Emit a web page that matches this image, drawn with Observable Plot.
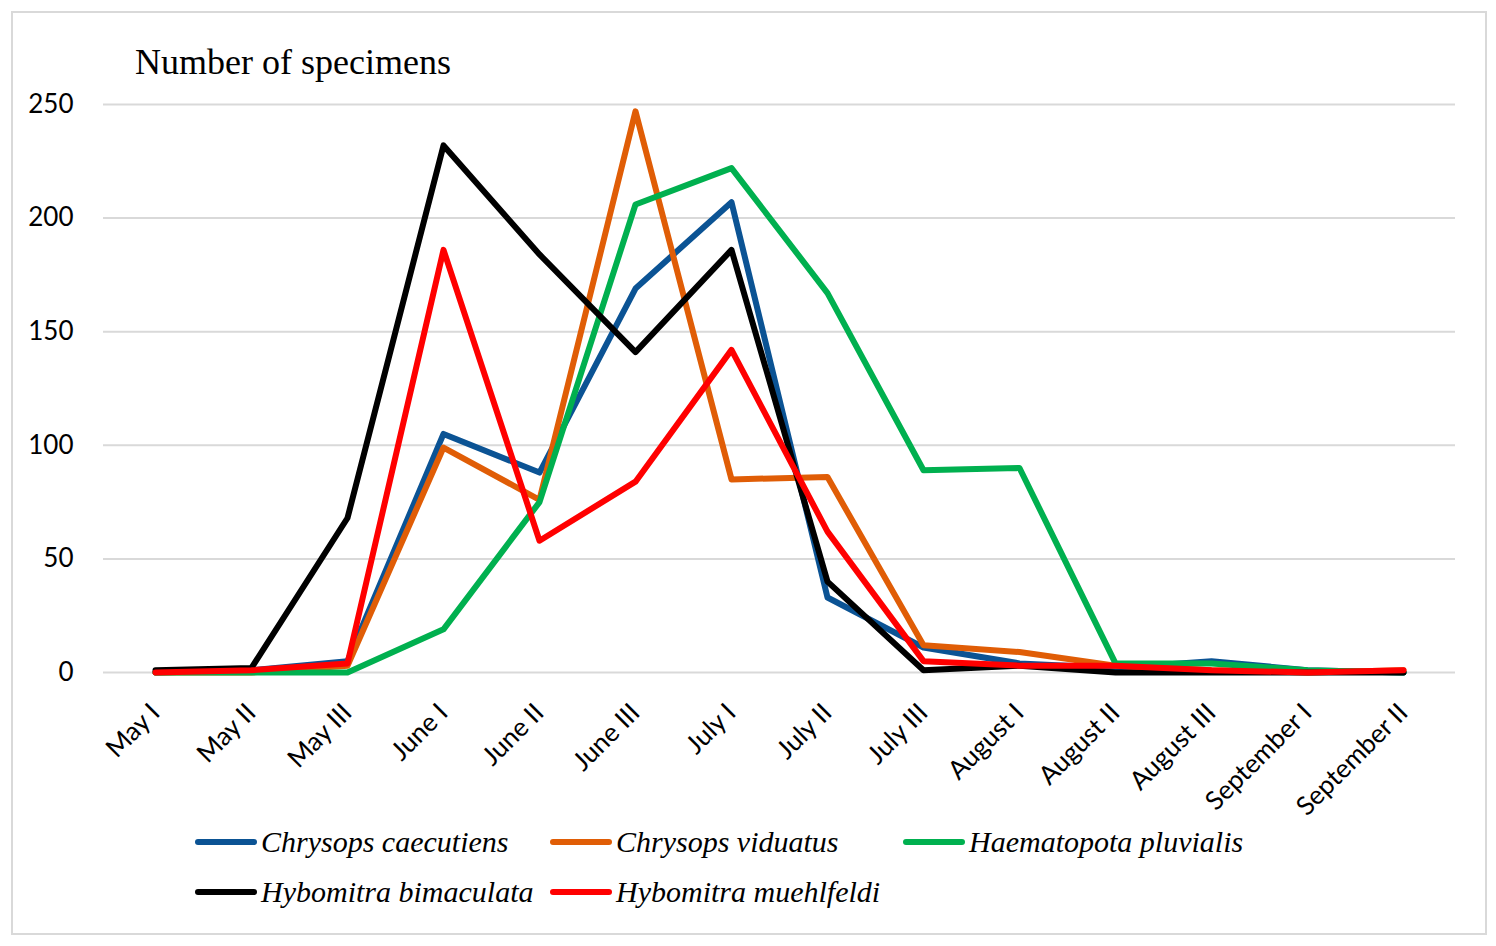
<!DOCTYPE html>
<html>
<head>
<meta charset="utf-8">
<script src="https://cdn.jsdelivr.net/npm/d3@7"></script>
<script src="https://cdn.jsdelivr.net/npm/@observablehq/plot@0.6"></script>
<style>
  html, body { margin: 0; padding: 0; background: #fff; }
  body { position: relative; width: 1496px; height: 946px; overflow: hidden; }
  #frame { position: absolute; left: 11px; top: 11px; width: 1472px; height: 920px; border: 2px solid #d9d9d9; }
  #chart { position: absolute; left: 0; top: 0; }
  #title { position: absolute; left: 135px; top: 41px; font-family: "Liberation Serif", serif; font-size: 36px; color: #000; white-space: nowrap; }
  #legend { position: absolute; left: 195px; top: 825px; font-family: "Liberation Serif", serif; font-style: italic; font-size: 30px; color: #000; }
  .item { position: absolute; display: flex; align-items: center; white-space: nowrap; }
  .item svg { margin-right: 4px; }
</style>
</head>
<body>
<div id="frame"></div>
<div id="chart"></div>
<div id="title">Number of specimens</div>
<div id="legend"></div>
<script>
const periods = ["May I","May II","May III","June I","June II","June III","July I","July II","July III","August I","August II","August III","September I","September II"];
const species = ["Chrysops caecutiens","Chrysops viduatus","Haematopota pluvialis","Hybomitra bimaculata","Hybomitra muehlfeldi"];
const colors = ["#0B5394","#E05D06","#00B04F","#000000","#FF0000"];
const caecutiens  = [0, 1, 5, 105, 88, 169, 207, 33, 11, 4, 2, 5, 1, 0];
const viduatus    = [0, 0, 3, 99, 76, 247, 85, 86, 12, 9, 3, 1, 0, 1];
const pluvialis   = [0, 0, 0, 19, 75, 206, 222, 167, 89, 90, 4, 4, 1, 0];
const bimaculata  = [1, 2, 68, 232, 184, 141, 186, 40, 1, 3, 0, 0, 0, 0];
const muehlfeldi  = [0, 1, 4, 186, 58, 84, 142, 62, 5, 3, 3, 1, 0, 1];
const yTicks = [0, 50, 100, 150, 200, 250];

const seriesValues = [caecutiens, viduatus, pluvialis, bimaculata, muehlfeldi];
const data = [];
species.forEach((s, i) => {
  seriesValues[i].forEach((v, j) => data.push({species: s, period: periods[j], value: v}));
});

const chart = Plot.plot({
  width: 1496,
  height: 840,
  marginLeft: 103,
  marginRight: 41,
  marginTop: 104,
  marginBottom: 168,
  style: {fontFamily: "Lato, sans-serif", fontSize: "26px", color: "#000", background: "transparent", overflow: "visible"},
  x: {type: "point", domain: periods, padding: 0.47, label: null, tickRotate: -45, tickSize: 0, tickPadding: 36},
  y: {domain: [0, 250], ticks: yTicks, label: null, tickSize: 0, tickPadding: 30},
  color: {domain: species, range: colors},
  marks: [
    Plot.ruleY(yTicks, {stroke: "#d9d9d9", strokeWidth: 2, strokeOpacity: 1}),
    Plot.line(data, {x: "period", y: "value", z: "species", stroke: "species", strokeWidth: 6, strokeLinejoin: "round", strokeLinecap: "round"})
  ]
});
document.getElementById("chart").appendChild(chart);

const legend = document.getElementById("legend");
const pos = [[0,0],[355,0],[708,0],[0,50],[355,50]];
species.forEach((s, i) => {
  const d = document.createElement("div");
  d.className = "item";
  d.style.left = pos[i][0] + "px";
  d.style.top = pos[i][1] + "px";
  d.innerHTML = `<svg width="62" height="10"><line x1="3" y1="5" x2="59" y2="5" stroke="${colors[i]}" stroke-width="6" stroke-linecap="round"/></svg><span>${s}</span>`;
  legend.appendChild(d);
});
</script>
</body>
</html>
